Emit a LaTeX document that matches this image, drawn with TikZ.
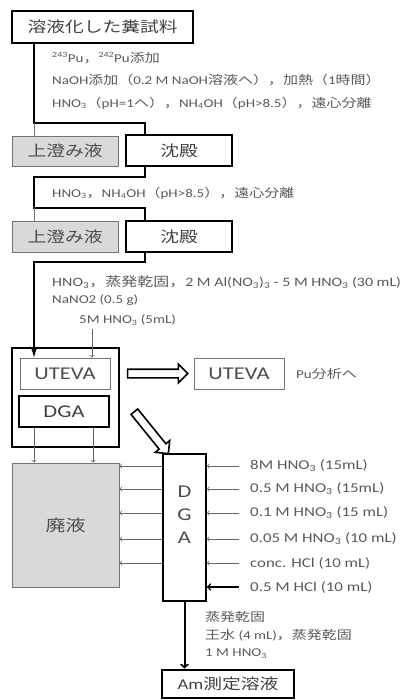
\documentclass[tikz,border=0pt]{standalone}
\usepackage{fontspec}
\setmainfont{Carlito}[FakeStretch=1.25]
\newfontfamily\jpfont{Noto Sans CJK JP}[FakeStretch=1.25]
\newcommand\J[1]{{\jpfont #1}}
\usetikzlibrary{arrows,shapes.arrows}

\begin{document}
\begin{tikzpicture}[x=1pt,y=-1pt]

\tikzset{box/.style = {shape=rectangle,draw,line width=2.8pt,inner sep=0pt,text=black!75,font=\fontsize{15}{15}\selectfont}}
\tikzset{resin/.style = {shape=rectangle,draw=black!55,line width=0.8pt,inner sep=0pt,text=black!70,font=\fontsize{15}{15}\selectfont}}
\tikzset{waste/.style = {resin,fill=black!15}}
\tikzset{note/.style = {anchor=west,inner sep=0pt,text=black!65,font=\fontsize{12}{12}\selectfont}}
\tikzset{reagent/.style = {note,font=\fontsize{13.5}{13.5}\selectfont}}
\tikzset{flow/.style = {line width=2.8pt}}
\tikzset{gline/.style = {draw=black!55,line width=0.8pt}}
\tikzset{feed/.style = {->,> = to,draw=black!60,line width=0.8pt}}
\tikzset{bigarrow/.style = {single arrow,draw,fill=white,line width=1.6pt,inner xsep=0pt,inner ysep=3.5pt,minimum width=17,single arrow head extend=5}}

\useasboundingbox (0,0) rectangle (411,700);

% boxes
\node[box,minimum width=181,minimum height=32] (top) at (102.5,27) {\J{溶液化した糞試料}};
\node[waste,minimum width=106,minimum height=30] (sup1) at (65,151) {\J{上澄み液}};
\node[box,minimum width=106,minimum height=31] (ppt1) at (179,150.5) {\J{沈殿}};
\node[waste,minimum width=106,minimum height=31] (sup2) at (65,236.5) {\J{上澄み液}};
\node[box,minimum width=106,minimum height=31] (ppt2) at (179,236.5) {\J{沈殿}};
\node[box,minimum width=107,minimum height=99] (column) at (65.5,397.5) {};
\node[resin,minimum width=90,minimum height=31,font=\fontsize{18}{18}\selectfont] (uteva1) at (65,373.5) {UTEVA};
\node[box,minimum width=90,minimum height=31,font=\fontsize{18}{18}\selectfont] (dga1) at (64,411.5) {DGA};
\node[resin,minimum width=90,minimum height=31,font=\fontsize{18}{18}\selectfont] (uteva2) at (239,373.5) {UTEVA};
\node[waste,minimum width=107,minimum height=124,font=\fontsize{16}{16}\selectfont] (waste) at (65.5,525) {\J{廃液}};
\node[box,minimum width=43,minimum height=147,line width=1.8pt] (dgacol) at (184.5,527.5) {};
\node[resin,draw=none,font=\fontsize{18}{18}\selectfont] (d) at (184.5,492) {D};
\node[resin,draw=none,font=\fontsize{18}{18}\selectfont] (g) at (184.5,515) {G};
\node[resin,draw=none,font=\fontsize{18}{18}\selectfont] (a) at (184.5,538) {A};
\node[box,minimum width=132,minimum height=28] (am) at (228,684) {Am\J{測定溶液}};

% texts
\node[note] (n1) at (52,58) {\textsuperscript{243}Pu\J{，}\textsuperscript{242}Pu\J{添加}};
\node[note] (n2) at (52,80) {NaOH\J{添加（}0.2 M NaOH\J{溶液へ），加熱（}1\J{時間）}};
\node[note] (n3) at (52,103) {HNO\textsubscript{3}\J{（}pH=1\J{へ），}NH\textsubscript{4}OH\J{（}pH>8.5\J{），遠心分離}};
\node[note] (n4) at (52,193) {HNO\textsubscript{3}\J{，}NH\textsubscript{4}OH\J{（}pH>8.5\J{），遠心分離}};
\node[note,font=\fontsize{12.8}{12.8}\selectfont] (n5) at (52,282) {HNO\textsubscript{3}\J{，蒸発乾固，}2 M Al(NO\textsubscript{3})\textsubscript{3} - 5 M HNO\textsubscript{3} (30 mL)};
\node[note] (n6) at (52,300) {NaNO2 (0.5 g)};
\node[note] (n7) at (79,320) {5M HNO\textsubscript{3} (5mL)};
\node[note] (pu) at (296,373.5) {Pu\J{分析へ}};
\node[reagent] (r1) at (250,466) {8M HNO\textsubscript{3} (15mL)};
\node[reagent] (r2) at (250,489) {0.5 M HNO\textsubscript{3} (15mL)};
\node[reagent] (r3) at (250,513) {0.1 M HNO\textsubscript{3} (15 mL)};
\node[reagent] (r4) at (250,539) {0.05 M HNO\textsubscript{3} (10 mL)};
\node[reagent] (r5) at (250,563) {conc. HCl (10 mL)};
\node[reagent] (r6) at (250,587) {0.5 M HCl (10 mL)};
\node[note] (b1) at (205,617) {\J{蒸発乾固}};
\node[note] (b2) at (205,635) {\J{王水} (4 mL)\J{，蒸発乾固}};
\node[note] (b3) at (205,654) {1 M HNO\textsubscript{3}};

% double arrows
\node[bigarrow,minimum height=60] (toPu) at (155.5,373.5) {};
\node[bigarrow,minimum height=54,rotate=-51] (toDGA) at (150,431) {};

%edges
\coordinate (s1) at (34,123);
\coordinate (s2) at (145,123);
\coordinate (s3) at (145,177);
\coordinate (s4) at (34,177);
\coordinate (s5) at (34,208);
\coordinate (s6) at (145,208);
\coordinate (s7) at (145,262);
\coordinate (s8) at (34,262);
\coordinate (f1) at (92,329);

\draw[flow] (top.south -| s1) -- (s1) -- (s2) -- (ppt1.north -| s2);
\draw[gline] (s1) -- (sup1.north -| s1);
\draw[flow] (ppt1.south -| s3) -- (s3) -- (s4) -- (s5) -- (s6) -- (ppt2.north -| s6);
\draw[gline] (s5) -- (sup2.north -| s5);
\draw[flow,-latex'] (ppt2.south -| s7) -- (s7) -- (s8) -- (uteva1.north -| s8);
\draw[feed] (f1) -- (uteva1.north -| f1);
\foreach \x in {34,93}
  \draw[feed] (dga1.south -| \x,0) -- (waste.north -| \x,0);
\foreach \y in {466,489,513,539,563}
  \draw[feed] (dgacol.west |- 0,\y) -- (waste.east |- 0,\y);
\foreach \i in {1,...,5}
  \draw[feed] ([xshift=-11pt]r\i.west) -- (dgacol.east |- r\i.west);
\draw[->,> = to,line width=1.6pt] ([xshift=-11pt]r6.west) -- (dgacol.east |- r6.west);
\draw[line width=2pt,-to] (dgacol.south) -- (am.north -| dgacol.south);
\end{tikzpicture}
\end{document}
